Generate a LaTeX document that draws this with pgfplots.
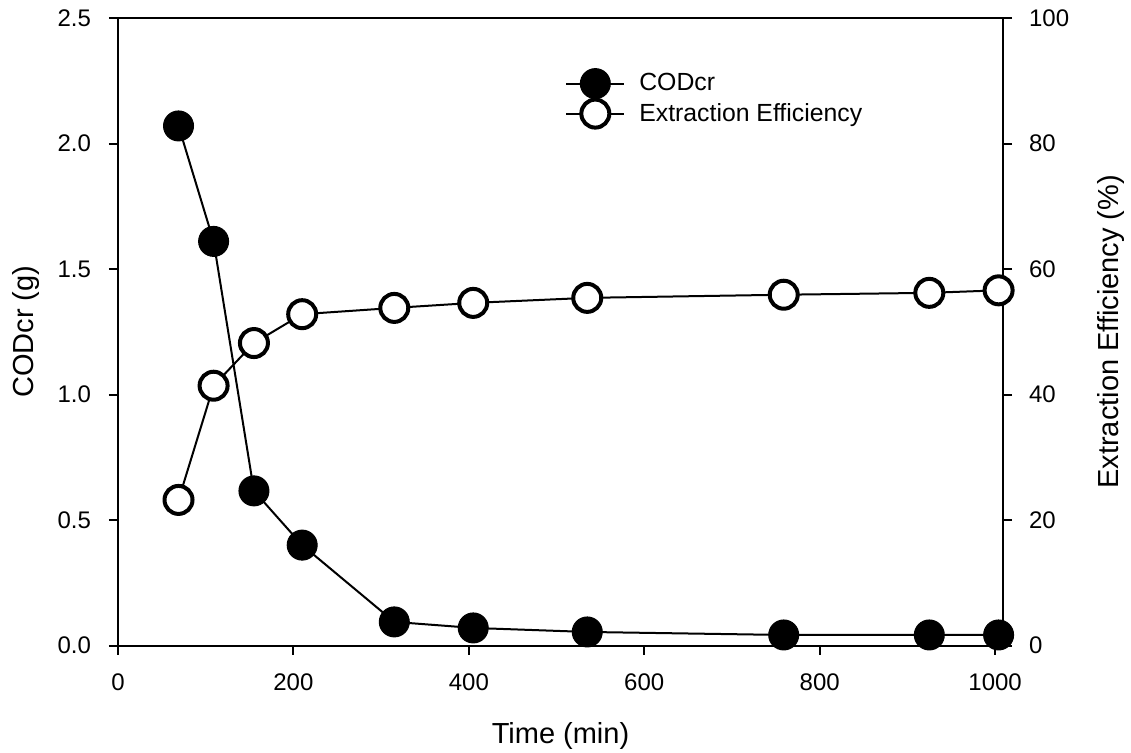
\documentclass[border=0pt]{standalone}
\usepackage{fontspec}
\setmainfont{Liberation Sans}
\usepackage{pgfplots}
\pgfplotsset{compat=1.18}
\begin{document}
\begin{tikzpicture}
\pgfplotsset{
  set layers,
  base/.style={scale only axis, width=442.5pt, height=313.75pt, xmin=0, xmax=1009,
    clip=false,
    axis line style={line width=1pt}, major tick length=4.5pt, tick align=outside,
    every tick/.style={line width=1pt, black},
    tick label style={font=\fontsize{12}{14}\selectfont},
    /pgf/number format/assume math mode=true,
    /pgf/number format/1000 sep={},
    label style={font=\fontsize{14.5}{17}\selectfont},
  },
  cod/.style={black, line width=1pt, mark=*, mark size=7.5pt, mark options={fill=black, line width=0.5pt}},
  ee/.style={black, line width=1pt, mark=*, mark size=7pt, mark options={fill=white, line width=2pt}},
}
\begin{axis}[base, ymin=0, ymax=2.5,
  xtick={0,200,...,1000}, ytick={0,0.5,...,2.5},
  xtick pos=bottom, ytick pos=left,
  xticklabel style={yshift=-6pt},
  yticklabel style={xshift=-5.5pt, /pgf/number format/fixed, /pgf/number format/fixed zerofill, /pgf/number format/precision=1},
  xlabel={Time (min)}, ylabel={CODcr (g)},
  x label style={at={(axis description cs:0.5,-0.1554)}, anchor=base},
  y label style={at={(axis description cs:-0.096,0.5)}, anchor=base},
]
\addplot[cod] coordinates {
(69,2.07) (109,1.61) (155,0.616) (210,0.40) (315,0.094) (405,0.070) (535,0.054) (759,0.042) (925,0.042) (1004,0.042)
};
\end{axis}
\begin{axis}[base, ymin=0, ymax=100, ytick={0,20,...,100},
  hide x axis, axis y line*=right,
  yticklabel style={xshift=5pt},
  ylabel={Extraction Efficiency (\%)},
  y label style={at={(axis description cs:1.13,0.5)}, anchor=base},
  legend image code/.code={\draw[mark repeat=2,mark phase=2,#1] plot coordinates {(0pt,0pt) (14.5pt,0pt) (29pt,0pt)};},
  legend style={draw=none, fill=none, at={(0.505,0.920)}, anchor=north west, inner sep=0pt,
    row sep=0.5pt, column sep=7pt, nodes={inner sep=0pt}, font=\fontsize{12.4}{14}\selectfont},
  legend cell align=left,
]
\addlegendimage{cod}
\addlegendentry{CODcr}
\addplot[ee] coordinates {
(69,23.2) (109,41.4) (155,48.2) (210,52.8) (315,53.8) (405,54.6) (535,55.4) (759,55.9) (925,56.2) (1004,56.6)
};
\addlegendentry{Extraction Efficiency}
\end{axis}
\pgfresetboundingbox
\path[use as bounding box] (-59pt,-53.25pt) rectangle (506.5pt,322.75pt);
\end{tikzpicture}
\end{document}
